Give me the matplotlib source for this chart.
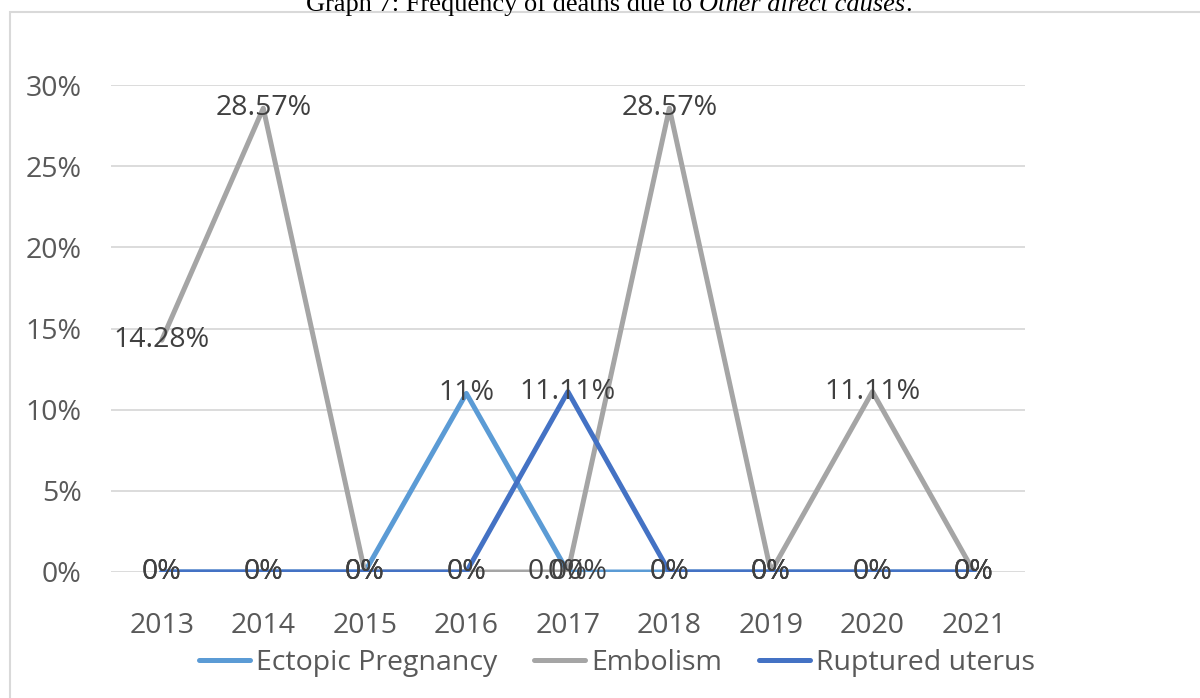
import matplotlib
matplotlib.use("Agg")
import matplotlib.pyplot as plt
from matplotlib.patches import Rectangle

# -------------------------------
# Data
# -------------------------------
years = ["2013", "2014", "2015", "2016", "2017", "2018", "2019", "2020", "2021"]
ectopic = [0, 0, 0, 0.11, 0, 0, 0, 0, 0]
embolism = [0.1428, 0.2857, 0, 0, 0, 0.2857, 0, 0.1111, 0]
ruptured = [0, 0, 0, 0, 0.1111, 0, 0, 0, 0]

ectopic_labels = ["0%", "0%", "0%", "11%", "0%", "0%", "0%", "0%", "0%"]
embolism_labels = ["14.28%", "28.57%", "0%", "0%", "0.00%", "28.57%", "0%", "11.11%", "0%"]
ruptured_labels = ["0%", "0%", "0%", "0%", "11.11%", "0%", "0%", "0%", "0%"]

c_ect = "#5B9BD5"
c_emb = "#A5A5A5"
c_rup = "#4472C4"

plt.rcParams["font.family"] = ["Open Sans", "DejaVu Sans"]

W, H = 1200, 698
fig = plt.figure(figsize=(W / 100, H / 100), dpi=100)

# chart border (runs off the right and bottom of the picture)
fig.patches.append(Rectangle((10 / W, 0 - 20 / H), 1.1, 1 - 12 / H + 20 / H,
                             transform=fig.transFigure, fill=False,
                             edgecolor="#D9D9D9", lw=1.5))

ax = fig.add_axes([111 / W, (H - 572) / H, (1024.75 - 111) / W, (572 - 85) / H])

x = list(range(len(years)))
ax.plot(x, ectopic, color=c_ect, lw=3.6, solid_capstyle="round", label="Ectopic Pregnancy", zorder=3)
ax.plot(x, embolism, color=c_emb, lw=3.6, solid_capstyle="round", label="Embolism", zorder=4)
ax.plot(x, ruptured, color=c_rup, lw=3.6, solid_capstyle="round", label="Ruptured uterus", zorder=5)

for vals, labs in [(ectopic, ectopic_labels), (embolism, embolism_labels), (ruptured, ruptured_labels)]:
    for xi, v, t in zip(x, vals, labs):
        ax.text(xi, v, t, ha="center", va="center", fontsize=20.5, color="#404040", zorder=6)

ax.set_xlim(-0.5, len(years) - 0.5)
ax.set_ylim(0, 0.30)
ax.set_yticks([0, 0.05, 0.10, 0.15, 0.20, 0.25, 0.30])
ax.set_yticklabels(["0%", "5%", "10%", "15%", "20%", "25%", "30%"])
ax.set_xticks(x)
ax.set_xticklabels(years)
ax.tick_params(axis="y", length=0, pad=21, labelsize=20.5, labelcolor="#595959")
ax.tick_params(axis="x", length=0, pad=29, labelsize=20.5, labelcolor="#595959")
ax.grid(axis="y", color="#D9D9D9", lw=1.3)
ax.set_axisbelow(True)
for s in ax.spines.values():
    s.set_visible(False)

fig.legend(loc="center", bbox_to_anchor=(617 / W, 1 - 663 / H), ncol=3, frameon=False,
           fontsize=20.5, handlelength=1.8, handletextpad=0.2, columnspacing=1.3,
           labelcolor="#595959")

# title, partly cut off at the top
fig.canvas.draw()
r = fig.canvas.get_renderer()
parts = [("Graph 7: Frequency of deaths due to ", "normal"), ("Other direct causes", "italic"), (".", "normal")]
texts = []
for s, st in parts:
    texts.append(fig.text(0, 1 - 11 / H, s, fontsize=19, family="Liberation Serif",
                          style=st, va="baseline", ha="left", color="black"))
widths = [t.get_window_extent(r).width for t in texts]
x0 = 609 - sum(widths) / 2
for t, w in zip(texts, widths):
    t.set_x(x0 / W)
    x0 += w

fig.savefig("out.png", dpi=100)
